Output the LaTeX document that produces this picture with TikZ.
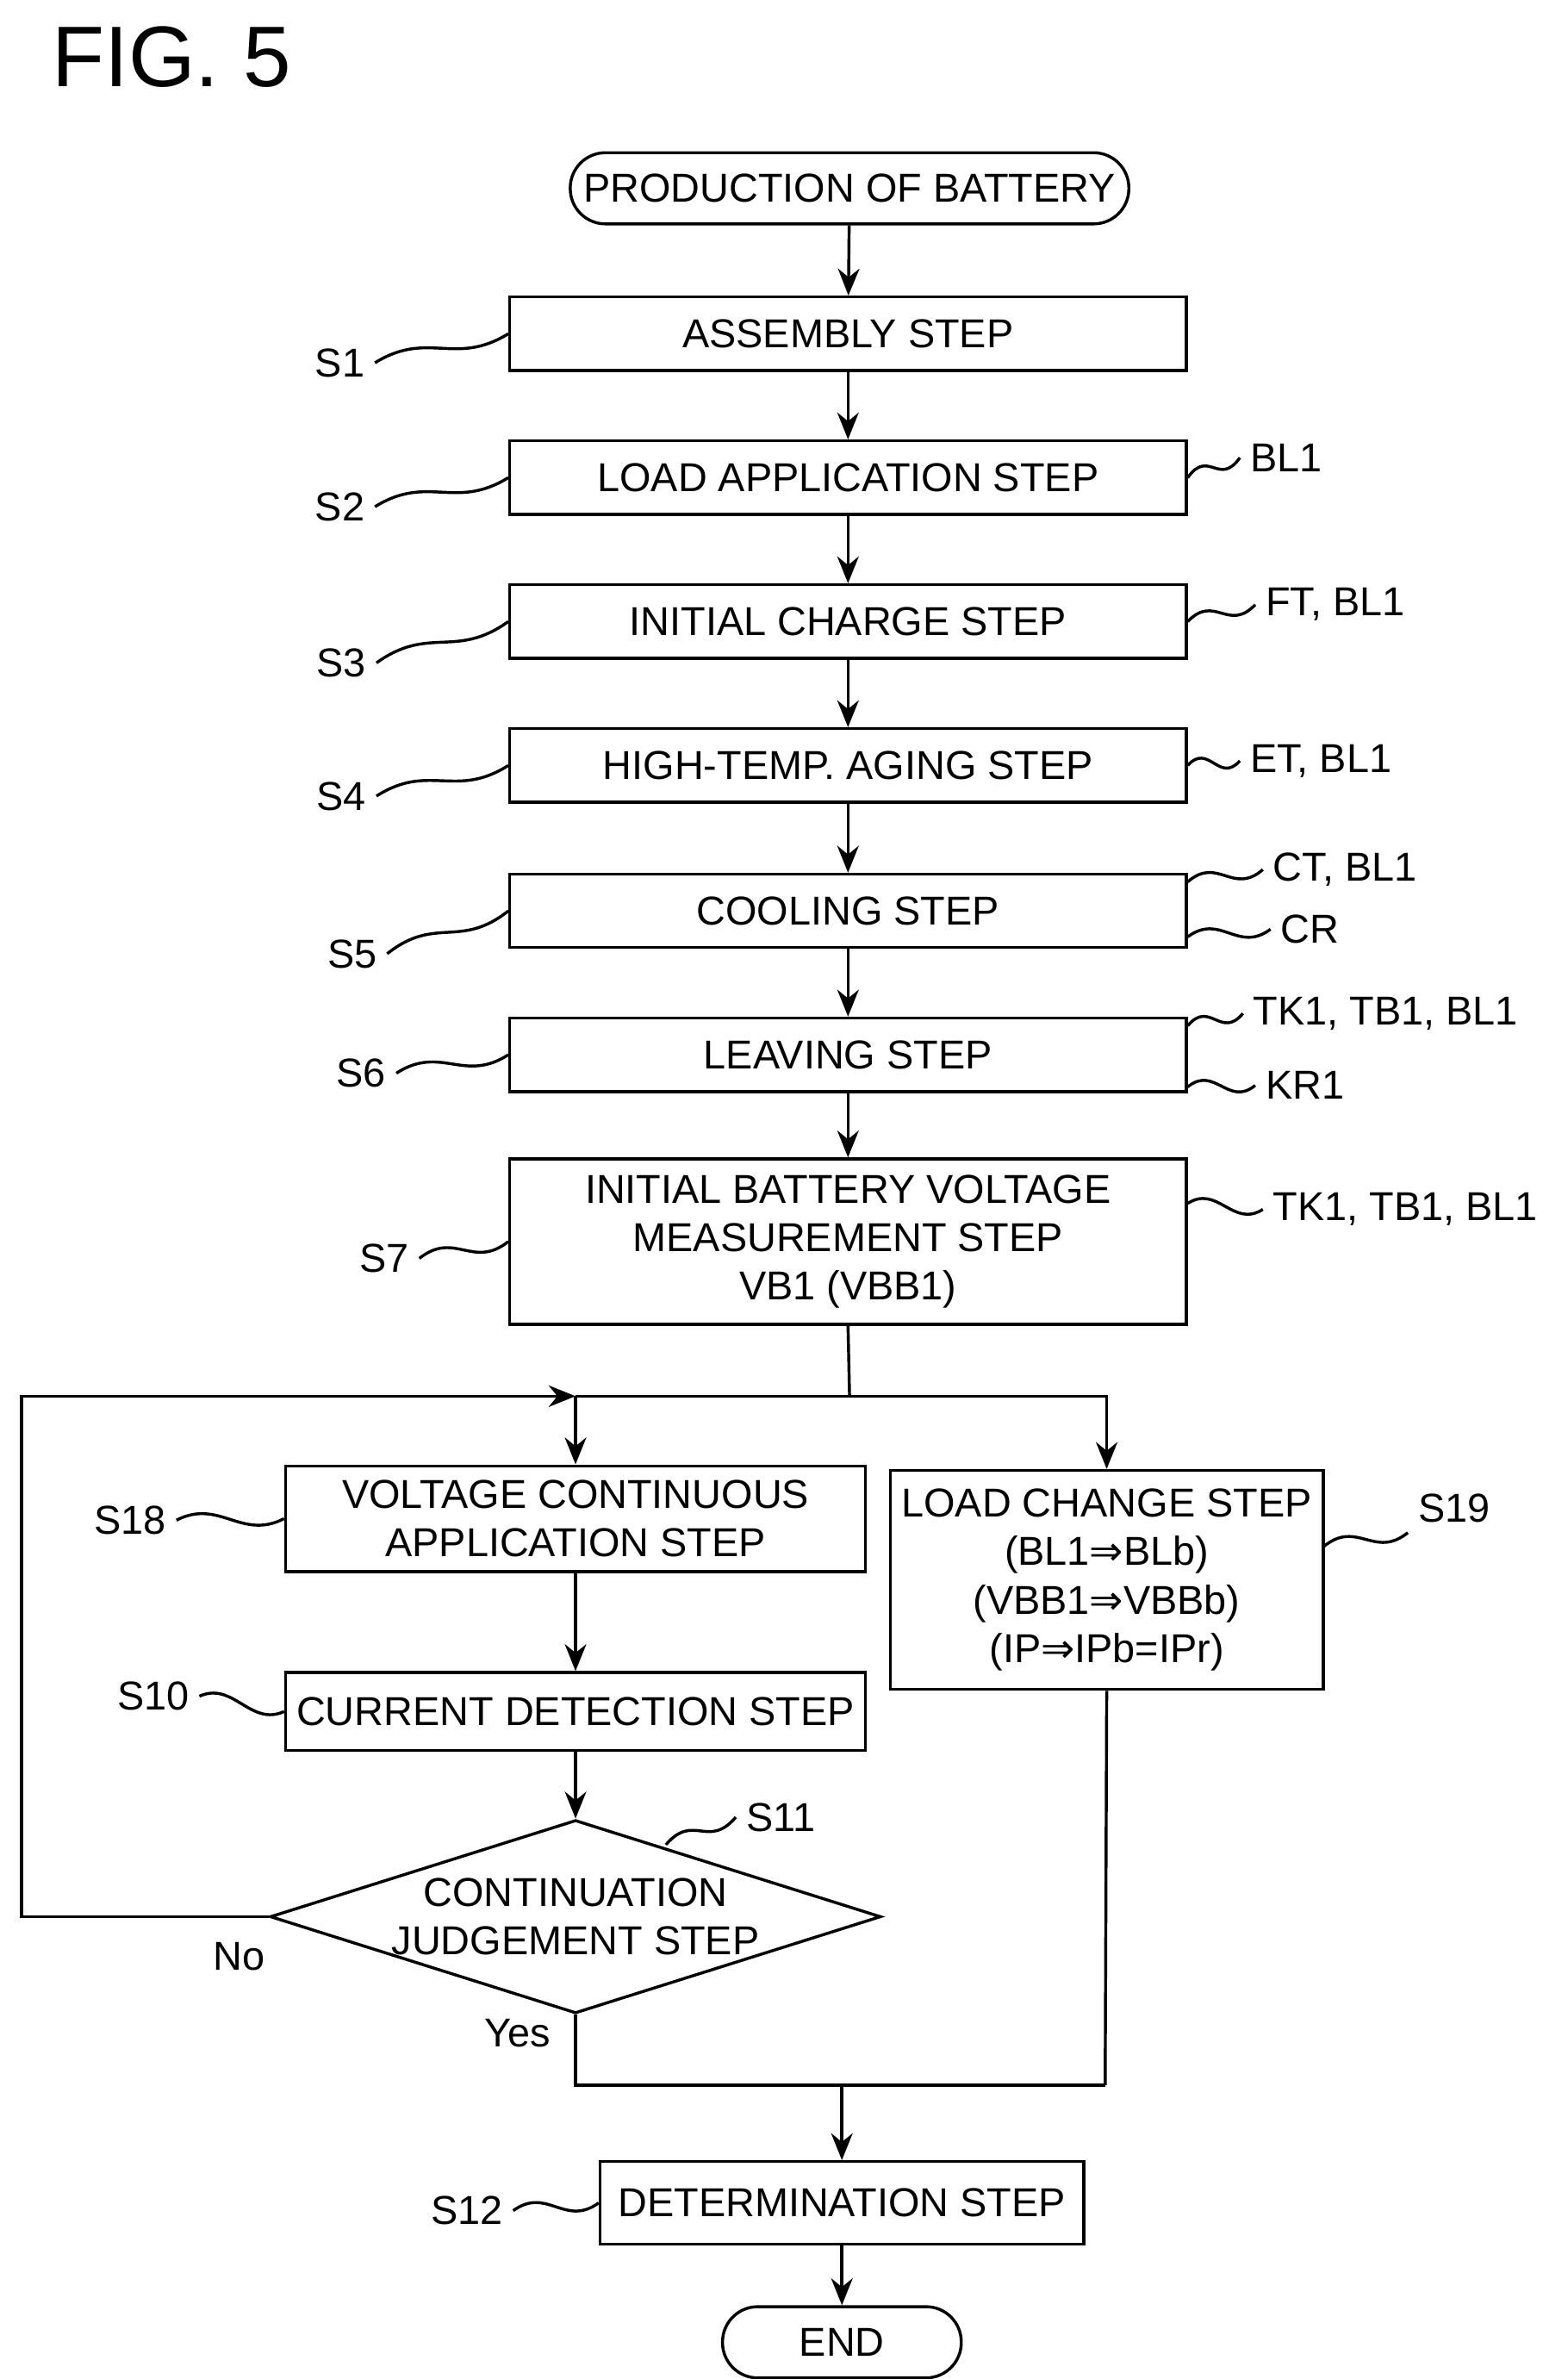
\documentclass[tikz,border=0pt]{standalone}
\usepackage{fontspec}
\setmainfont{Liberation Sans}
\newfontfamily\symf{DejaVu Sans}
\usetikzlibrary{shapes.geometric,arrows.meta,calc}
\newcommand{\To}{{\symf\char"21D2}}
\begin{document}
\begin{tikzpicture}[
    x=0.02cm, y=-0.02cm,
    line width=1.1pt,
    font=\fontsize{15}{18}\selectfont,
    stepbox/.style={rectangle, draw, minimum width=8.84cm, minimum height=0.96cm, align=center, inner sep=2pt},
    term/.style={rectangle, draw, rounded corners=0.46cm, minimum height=0.93cm, inner sep=2pt},
    judge/.style={diamond, draw, aspect=3.16, minimum width=7.52cm, minimum height=2.38cm, inner sep=0pt, align=center},
    arr/.style={-{Stealth[length=10pt,width=8pt]}},
    lead/.style={line width=0.8pt, to path={.. controls ($(\tikztostart)!0.4!(\tikztotarget)+(0,-14)$) and ($(\tikztostart)!0.6!(\tikztotarget)+(0,14)$) .. (\tikztotarget)}}
  ]
    \useasboundingbox (0,0) rectangle (1024,1554);
    \node[font=\fontsize{32}{36}\selectfont] (fig) at (112,37) {FIG. 5};

    % Main column
    \node[term, minimum width=7.3cm] (start) at (555,123) {PRODUCTION OF BATTERY};
    \node[stepbox] (s1) at (554,218) {ASSEMBLY STEP};
    \node[stepbox] (s2) at (554,312) {LOAD APPLICATION STEP};
    \node[stepbox] (s3) at (554,406) {INITIAL CHARGE STEP};
    \node[stepbox] (s4) at (554,500) {HIGH-TEMP. AGING STEP};
    \node[stepbox] (s5) at (554,595) {COOLING STEP};
    \node[stepbox] (s6) at (554,689) {LEAVING STEP};
    \node[stepbox, minimum height=2.16cm] (s7) at (554,811) {INITIAL BATTERY VOLTAGE\\MEASUREMENT STEP\\VB1 (VBB1)};

    % Branches
    \node[stepbox, minimum width=7.58cm, minimum height=1.38cm, inner sep=1pt] (s18) at (376,992) {VOLTAGE CONTINUOUS\\APPLICATION STEP};
    \node[stepbox, minimum width=7.58cm, minimum height=1.02cm, inner sep=1pt] (s10) at (376,1118) {CURRENT DETECTION STEP};
    \node[judge] (s11) at (376,1252) {CONTINUATION\\JUDGEMENT STEP};
    \node[stepbox, minimum width=5.66cm, minimum height=2.86cm, inner sep=1pt] (s19) at (723,1032) {LOAD CHANGE STEP\\(BL1\To BLb)\\(VBB1\To VBBb)\\(IP\To IPb=IPr)};
    \node[stepbox, minimum width=6.32cm, minimum height=1.08cm] (s12) at (550,1439) {DETERMINATION STEP};
    \node[term, minimum width=3.12cm] (end) at (550,1530) {END};

    % Connectors
    \draw[arr] (start) -- (s1);
    \draw[arr] (s1) -- (s2);
    \draw[arr] (s2) -- (s3);
    \draw[arr] (s3) -- (s4);
    \draw[arr] (s4) -- (s5);
    \draw[arr] (s5) -- (s6);
    \draw[arr] (s6) -- (s7);
    \coordinate (split) at (555,912);
    \coordinate (jl) at (376,912);
    \coordinate (jr) at (723,912);
    \coordinate (lp) at (14,912);
    \coordinate (mr) at (722,1362);
    \coordinate (mm) at (550,1362);
    \draw (s7.south) -- (split);
    \draw[arr] (split) -- (jr) -- (s19.north);
    \draw (split) -- (jl);
    \draw[arr] (jl) -- (s18.north);
    \draw[arr] (s11.west) -| (lp) -- (jl);
    \draw[arr] (s18) -- (s10);
    \draw[arr] (s10) -- (s11);
    \draw (s11.south) |- (mr);
    \draw (s19.south) -- (mr);
    \draw[arr] (mm) -- (s12);
    \draw[arr] (s12) -- (end);
    \node (no) at (156,1278) {No};
    \node (yes) at (338,1328) {Yes};

    % Step labels
    \node (l1) at (222,237) {S1};
    \node (l2) at (222,331) {S2};
    \node (l3) at (223,433) {S3};
    \node (l4) at (223,520) {S4};
    \node (l5) at (230,623) {S5};
    \node (l6) at (236,701) {S6};
    \node (l7) at (251,822) {S7};
    \node (l18) at (85,993) {S18};
    \node (l10) at (100,1108) {S10};
    \node (l11) at (510,1187) {S11};
    \node (l19) at (950,985) {S19};
    \node (l12) at (305,1444) {S12};
    \draw (l1.east) to[lead] (s1.west);
    \draw (l2.east) to[lead] (s2.west);
    \draw (l3.east) to[lead] (s3.west);
    \draw (l4.east) to[lead] (s4.west);
    \draw (l5.east) to[lead] (s5.west);
    \draw (l6.east) to[lead] (s6.west);
    \draw (l7.east) to[lead] (s7.west);
    \draw (l18.east) to[lead] (s18.west);
    \draw (l10.east) to[lead] (s10.west);
    \draw (l12.east) to[lead] (s12.west);
    \coordinate (p11) at (435,1205);
    \draw (p11) to[lead] (l11.west);
    \coordinate (p19) at (865,1010);
    \draw (p19) to[lead] (l19.south west);

    % Signal labels
    \node[anchor=west] (r2) at (810,299) {BL1};
    \node[anchor=west] (r3) at (820,395) {FT, BL1};
    \node[anchor=west] (r4) at (810,497) {ET, BL1};
    \node[anchor=west] (r5a) at (825,568) {CT, BL1};
    \node[anchor=west] (r5b) at (830,607) {CR};
    \node[anchor=west] (r6a) at (812,662) {TK1, TB1, BL1};
    \node[anchor=west] (r6b) at (820,709) {KR1};
    \node[anchor=west] (r7) at (825,790) {TK1, TB1, BL1};
    \draw (s2.east) to[lead] (r2.west);
    \draw (s3.east) to[lead] (r3.west);
    \draw (s4.east) to[lead] (r4.west);
    \draw ($(s5.north east)+(0,6)$) to[lead] (r5a.west);
    \draw ($(s5.south east)+(0,-8)$) to[lead] (r5b.west);
    \draw ($(s6.north east)+(0,6)$) to[lead] (r6a.west);
    \draw ($(s6.south east)+(0,-4)$) to[lead] (r6b.west);
    \draw ($(s7.north east)+(0,30)$) to[lead] (r7.west);
\end{tikzpicture}
\end{document}
